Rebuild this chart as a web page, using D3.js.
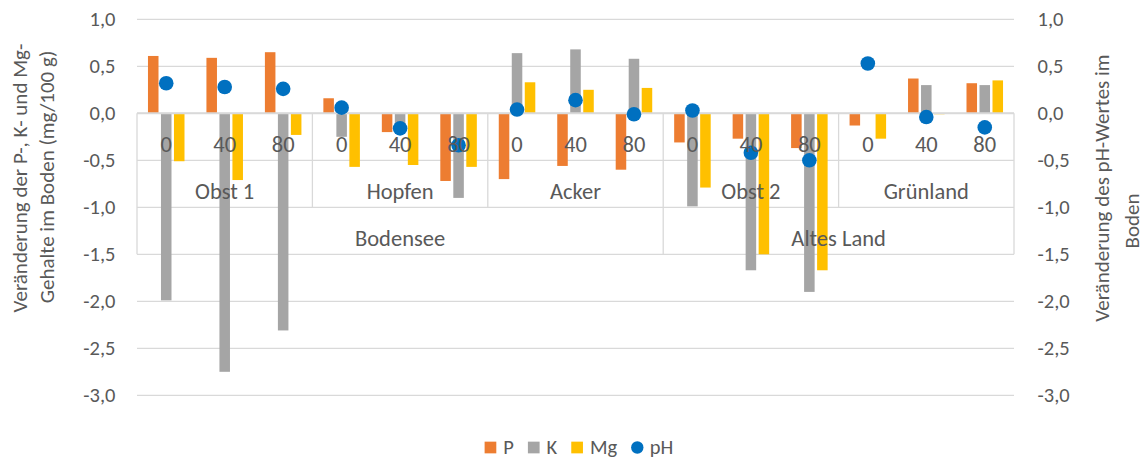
<!DOCTYPE html>
<html>
<head>
<meta charset="utf-8">
<script src="https://cdn.jsdelivr.net/npm/d3@7"></script>
<style>
  html, body { margin: 0; padding: 0; background: #fff; }
  svg { display: block; }
  text { font-family: Carlito, Calibri, Lato, "Open Sans", sans-serif; fill: #595959; }
</style>
</head>
<body>
<svg id="chart" width="1146" height="459"></svg>
<script>
// ---- data ----
const regions = ["Bodensee", "Altes Land"];
const groups = ["Obst 1", "Hopfen", "Acker", "Obst 2", "Grünland"];
const groupRegion = ["Bodensee", "Bodensee", "Bodensee", "Altes Land", "Altes Land"];
const doses = ["0", "40", "80"];
const seriesNames = ["P", "K", "Mg"];
const valuesP  = [0.61, 0.59, 0.65,  0.16, -0.20, -0.72,  -0.70, -0.56, -0.60,  -0.31, -0.27, -0.37,  -0.13, 0.37, 0.32];
const valuesK  = [-1.99, -2.75, -2.31,  -0.25, -0.12, -0.90,  0.64, 0.68, 0.58,  -0.99, -1.67, -1.90,  0.00, 0.30, 0.30];
const valuesMg = [-0.51, -0.71, -0.23,  -0.57, -0.55, -0.57,  0.33, 0.25, 0.27,  -0.79, -1.50, -1.67,  -0.27, -0.01, 0.35];
const valuesPH = [0.32, 0.28, 0.26,  0.06, -0.16, -0.34,  0.04, 0.14, -0.01,  0.03, -0.42, -0.50,  0.53, -0.04, -0.15];
const yTicks = [1.0, 0.5, 0.0, -0.5, -1.0, -1.5, -2.0, -2.5, -3.0];
const leftTitle = ["Veränderung der P-, K- und Mg-", "Gehalte im Boden (mg/100 g)"];
const rightTitle = ["Veränderung des pH-Wertes im", "Boden"];

const colors = { P: "#ED7D31", K: "#A5A5A5", Mg: "#FFC000", pH: "#0070C0" };
const gridColor = "#D9D9D9";

// ---- layout ----
const svg = d3.select("#chart");
const plot = { left: 137, right: 1014, top: 19.3, bottom: 395.3 };

const cats = [];
groups.forEach((g, gi) => doses.forEach(d => cats.push({ key: g + "|" + d, dose: d, group: g, region: groupRegion[gi] })));

const x = d3.scaleBand().domain(cats.map(c => c.key)).range([plot.left, plot.right]).padding(0);
const y = d3.scaleLinear().domain([-3, 1]).range([plot.bottom, plot.top]);
const yRight = d3.scaleLinear().domain([-3, 1]).range([plot.bottom, plot.top]);
const sub = d3.scaleBand().domain(seriesNames).range([-19.5, 19.5]).paddingInner(0.19).paddingOuter(0.095);

const fmt = v => d3.format(".1f")(v).replace(".", ",").replace("−", "-");

// gridlines
svg.append("g").selectAll("line").data(yTicks).join("line")
  .attr("x1", plot.left).attr("x2", plot.right)
  .attr("y1", d => y(d)).attr("y2", d => y(d))
  .attr("stroke", gridColor).attr("stroke-width", 1.3);

// category table vertical lines
const rowH = y(-0.5) - y(0);
const vLines = [];
groups.forEach((g, gi) => {
  const first = x(g + "|" + doses[0]);
  const isRegionStart = gi === 0 || groupRegion[gi] !== groupRegion[gi - 1];
  vLines.push({ x: first, rows: isRegionStart ? 3 : 2 });
});
vLines.push({ x: plot.right, rows: 3 });
svg.append("g").selectAll("line").data(vLines).join("line")
  .attr("x1", d => d.x).attr("x2", d => d.x)
  .attr("y1", y(0)).attr("y2", d => y(0) + rowH * d.rows)
  .attr("stroke", gridColor).attr("stroke-width", 1.3);

// bars
const seriesData = { P: valuesP, K: valuesK, Mg: valuesMg };
seriesNames.forEach(s => {
  svg.append("g").selectAll("rect").data(seriesData[s].map((v, i) => ({ v, c: cats[i] }))).join("rect")
    .attr("x", d => x(d.c.key) + x.bandwidth() / 2 + sub(s))
    .attr("width", sub.bandwidth())
    .attr("y", d => Math.min(y(d.v), y(0)))
    .attr("height", d => Math.abs(y(d.v) - y(0)))
    .attr("fill", colors[s]);
});

// zero axis line
svg.append("line")
  .attr("x1", plot.left).attr("x2", plot.right)
  .attr("y1", y(0)).attr("y2", y(0))
  .attr("stroke", gridColor).attr("stroke-width", 2);

// pH points
svg.append("g").selectAll("circle").data(valuesPH.map((v, i) => ({ v, c: cats[i] }))).join("circle")
  .attr("cx", d => x(d.c.key) + x.bandwidth() / 2)
  .attr("cy", d => yRight(d.v))
  .attr("r", 7.3)
  .attr("fill", colors.pH);

// left axis labels
svg.append("g").selectAll("text").data(yTicks).join("text")
  .attr("x", 115.5).attr("y", d => y(d) + 6.9)
  .attr("text-anchor", "end").attr("font-size", 20.5)
  .text(fmt);

// right axis labels
svg.append("g").selectAll("text").data(yTicks).join("text")
  .attr("x", 1037.5).attr("y", d => yRight(d) + 6.9)
  .attr("text-anchor", "start").attr("font-size", 20.5)
  .text(fmt);

// category labels level 1 (doses)
svg.append("g").selectAll("text").data(cats).join("text")
  .attr("x", d => x(d.key) + x.bandwidth() / 2)
  .attr("y", y(0) + 38.4)
  .attr("text-anchor", "middle").attr("font-size", 22.5)
  .text(d => d.dose);

// level 2 (groups)
svg.append("g").selectAll("text").data(groups).join("text")
  .attr("x", g => x(g + "|" + doses[1]) + x.bandwidth() / 2)
  .attr("y", y(0) + rowH + 38.4)
  .attr("text-anchor", "middle").attr("font-size", 22.5)
  .text(g => g);

// level 3 (regions)
svg.append("g").selectAll("text").data(regions).join("text")
  .attr("x", r => {
    const cs = cats.filter(c => c.region === r);
    return (x(cs[0].key) + x(cs[cs.length - 1].key) + x.bandwidth()) / 2;
  })
  .attr("y", y(0) + 2 * rowH + 38.4)
  .attr("text-anchor", "middle").attr("font-size", 22.5)
  .text(r => r);

// axis titles
const lt = svg.append("g");
[[26.7, 178], [54, 177]].forEach((p, i) => {
  lt.append("text")
    .attr("transform", `translate(${p[0]},${p[1]}) rotate(-90)`)
    .attr("text-anchor", "middle").attr("font-size", 21)
    .text(leftTitle[i]);
});
[[1109, 188], [1138.5, 221]].forEach((p, i) => {
  lt.append("text")
    .attr("transform", `translate(${p[0]},${p[1]}) rotate(-90)`)
    .attr("text-anchor", "middle").attr("font-size", 21)
    .text(rightTitle[i]);
});

// legend
const legendItems = [...seriesNames, "pH"];
const lg = svg.append("g");
let cx = 0;
const sym = 11.7, gapSym = 7, gapItem = 14;
legendItems.forEach(name => {
  const it = lg.append("g").attr("transform", `translate(${cx},0)`);
  if (name === "pH") {
    it.append("circle").attr("cx", sym / 2 + 0.3).attr("cy", 0).attr("r", 6.2).attr("fill", colors.pH);
  } else {
    it.append("rect").attr("x", 0).attr("y", -sym / 2).attr("width", sym).attr("height", sym).attr("fill", colors[name]);
  }
  const t = it.append("text").attr("x", sym + gapSym).attr("y", 6.6).attr("font-size", 20.5).text(name);
  cx += sym + gapSym + t.node().getComputedTextLength() + gapItem;
});
const totalW = cx - gapItem;
lg.attr("transform", `translate(${579 - totalW / 2},447.5)`);
</script>
</body>
</html>
